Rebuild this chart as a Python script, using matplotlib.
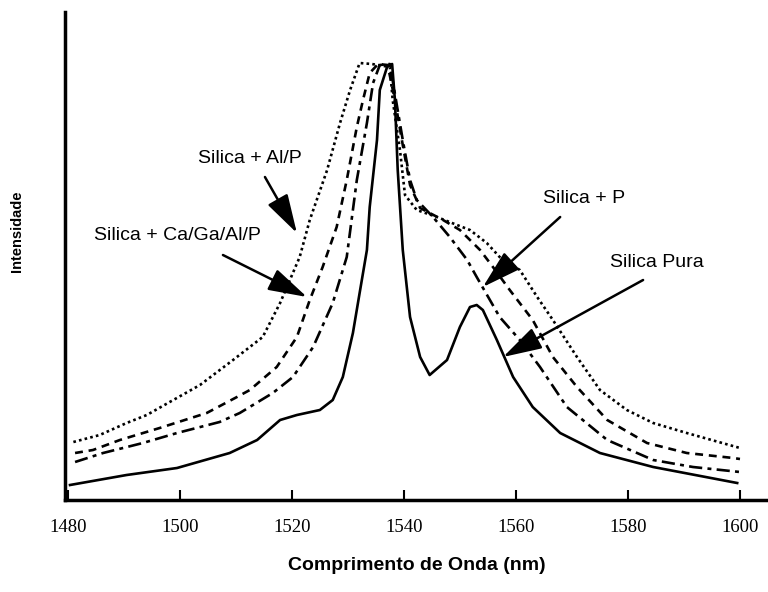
import matplotlib
matplotlib.use("Agg")
import matplotlib.pyplot as plt

# wavelength (nm) / intensity (arb. units)
wl_alp = [1481, 1485.7, 1490.5, 1494.1, 1498.2, 1503.6, 1509.5, 1514.8, 1517.9, 1521.4,
          1523.2, 1526.3, 1528.6, 1530.4, 1532.1, 1534.3, 1537.5, 1538, 1539.3, 1540.2,
          1542.3, 1545.9, 1549.5, 1551.8, 1554.8, 1557.1, 1560.7, 1563.8, 1566.6, 1570.9,
          1575, 1579.8, 1584.5, 1590.5, 1600]
int_alp = [58, 65, 77, 85, 98, 115, 140, 163, 197, 243,
           280, 330, 377, 410, 437, 436, 433, 400, 350, 305,
           290, 283, 275, 270, 257, 243, 230, 203, 180, 143,
           110, 90, 77, 67, 52]

wl_caga = [1481.3, 1484.5, 1489.3, 1496.4, 1504.8, 1510.2, 1512.5, 1517.3, 1520.9, 1523.2,
           1525.5, 1528, 1529.8, 1531.6, 1532.7, 1533.9, 1535.4, 1537.1, 1538.4, 1539.8,
           1541.1, 1542.9, 1547, 1550, 1553.6, 1555.9, 1558.9, 1563, 1566.6, 1570.9,
           1576.3, 1583.4, 1590.5, 1598.8, 1600]
int_caga = [47, 50, 60, 72, 87, 103, 110, 133, 163, 200,
            233, 273, 320, 373, 400, 427, 436, 435, 400, 355,
            315, 292, 280, 270, 250, 233, 210, 180, 143, 113,
            80, 57, 47, 42, 41]

wl_p = [1481.3, 1486.3, 1493.4, 1499.5, 1507.1, 1510.7, 1516.6, 1520.2, 1523.8, 1527.3,
        1529.8, 1531.6, 1533.4, 1534.5, 1535.7, 1537.5, 1538.8, 1539.8, 1541.1, 1542.3,
        1545.2, 1548.2, 1551.3, 1553, 1557.1, 1560.7, 1564.3, 1569.1, 1576.3, 1584.5,
        1591.6, 1600]
int_p = [38, 47, 57, 67, 78, 87, 107, 123, 153, 197,
         243, 320, 377, 417, 435, 436, 393, 360, 320, 300,
         283, 263, 240, 223, 183, 160, 133, 93, 60, 40,
         33, 28]

wl_pura = [1480.4, 1490.5, 1499.5, 1508.9, 1513.8, 1517.9, 1520.9, 1525, 1527.3, 1529.1,
           1530.9, 1532.1, 1533.4, 1533.9, 1535.2, 1535.7, 1537, 1537.9, 1538.4, 1538.9,
           1539.8, 1541.1, 1542.9, 1544.6, 1547.7, 1550, 1551.8, 1553, 1554.1, 1556.6,
           1559.5, 1563, 1567.9, 1575, 1584.5, 1599.5]
int_pura = [15, 25, 32, 47, 60, 80, 85, 90, 100, 123,
            167, 207, 250, 293, 360, 410, 433, 436, 400, 330,
            250, 183, 143, 125, 140, 173, 193, 195, 190, 160,
            123, 93, 67, 47, 33, 17]

xticks = [1480, 1500, 1520, 1540, 1560, 1580, 1600]

# label text, text position, arrow tail, arrow tip
labels = ["Silica + Al/P", "Silica + Ca/Ga/Al/P", "Silica + P", "Silica Pura"]
text_pos = [(1512.5, 342), (1499.6, 265), (1572.1, 302), (1585.2, 238)]
arrow_from = [(1515.2, 323), (1507.7, 245), (1567.9, 283), (1582.7, 220)]
arrow_to = [(1520.9, 267), (1522.7, 203), (1554.1, 213), (1557.7, 143)]

fig = plt.figure(figsize=(7.68, 5.92), dpi=100)
ax = fig.add_axes([0.0846, 0.1554, 0.9154, 0.8243])

ax.plot(wl_alp, int_alp, color="black", lw=1.9, linestyle=(0, (1, 1.2)))
ax.plot(wl_caga, int_caga, color="black", lw=1.9, linestyle=(0, (3, 2.2)))
ax.plot(wl_p, int_p, color="black", lw=1.9, linestyle=(0, (5, 2, 1.5, 2)))
ax.plot(wl_pura, int_pura, color="black", lw=1.9)

for lab, tp, a0, a1 in zip(labels, text_pos, arrow_from, arrow_to):
    ax.text(tp[0], tp[1], lab, ha="center", va="center", fontsize=14,
            family="Liberation Sans")
    ax.annotate("", xy=a1, xytext=a0,
                arrowprops=dict(arrowstyle="-|>,head_length=1.2,head_width=0.35",
                                lw=1.8, color="black", mutation_scale=20,
                                shrinkA=0, shrinkB=0))

ax.set_xlim(1479.5, 1605)
ax.set_ylim(0, 488)
ax.set_xticks(xticks)
ax.set_xticklabels([str(t) for t in xticks], family="Liberation Serif", fontsize=13.5)
ax.set_yticks([])
ax.tick_params(axis="x", direction="in", length=7, width=1.5, pad=14)

for s in ["top", "right"]:
    ax.spines[s].set_visible(False)
for s in ["left", "bottom"]:
    ax.spines[s].set_linewidth(2.5)

ax.set_xlabel("Comprimento de Onda (nm)", fontsize=14, fontweight="bold",
              family="Liberation Sans", labelpad=15)
ax.set_ylabel("Intensidade", fontsize=10.5, fontweight="bold",
              family="Liberation Sans")
ax.yaxis.set_label_coords(-0.058, 0.55)

fig.savefig("out.png", dpi=100)
